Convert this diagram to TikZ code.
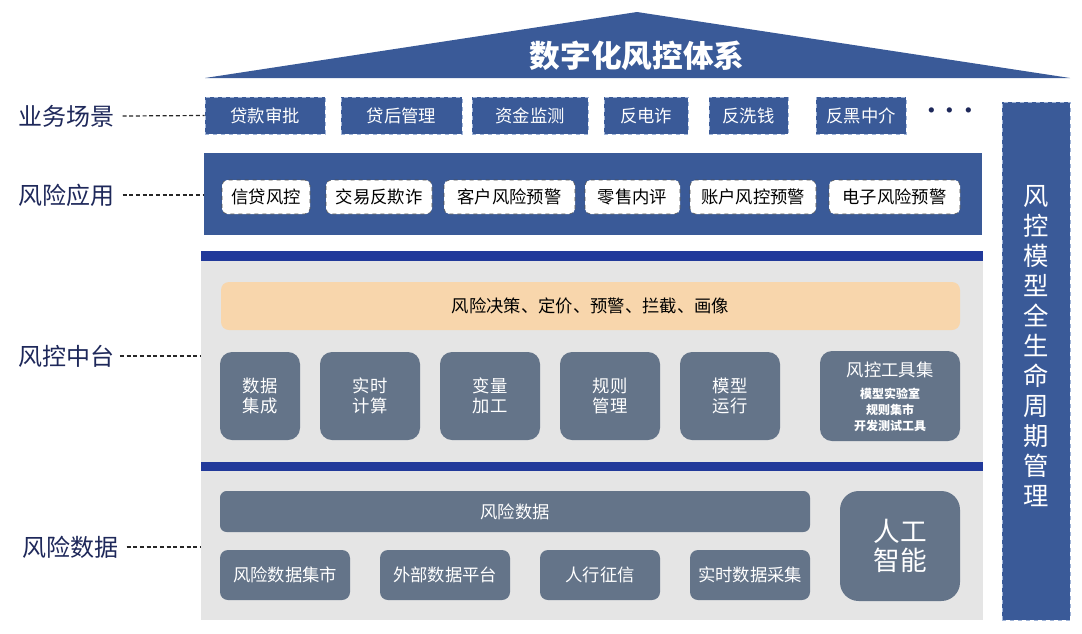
\documentclass[tikz,border=0pt]{standalone}
\usepackage{fontspec}
\setmainfont{Noto Sans CJK SC}
\begin{document}
\begin{tikzpicture}[x=0.75pt,y=-0.75pt,
  blue/.style={fill={rgb,255:red,58;green,90;blue,152}},
  biz/.style={blue,draw={rgb,255:red,160;green,180;blue,215},dashed,text=white,font=\fontsize{13}{15}\selectfont,inner sep=0pt},
  app/.style={fill=white,draw=black!70,dashed,rounded corners=4pt,font=\fontsize{13}{15}\selectfont,inner sep=0pt},
  gbox/.style={fill={rgb,255:red,100;green,116;blue,137},rounded corners=9pt,text=white,align=center,inner sep=0pt,font=\fontsize{13}{15}\selectfont},
  lab/.style={text={rgb,255:red,30;green,40;blue,90},font=\fontsize{18}{20}\selectfont,anchor=west,inner sep=0pt},
  dl/.style={densely dashed,line width=0.9pt,black!85},
  bar/.style={fill={rgb,255:red,33;green,57;blue,154}}]
\useasboundingbox (0,0) rectangle (1082,633);
\fill[white] (0,0) rectangle (1082,633);
% roof
\fill[blue] (205,78) -- (637,12) -- (1070,78) -- cycle;
\node[text=white,font=\bfseries\fontsize{23}{26}\selectfont] (title) at (637,56) {数字化风控体系};
% business
\foreach \a/\b/\t/\n in {205/325/贷款审批/b1,341/462/贷后管理/b2,472/588/资金监测/b3,604/688/反电诈/b4,709/788/反洗钱/b5,816/906/反黑中介/b6}{
  \node[biz,minimum width={(\b-\a)*0.75pt},minimum height={37*0.75pt}] (\n) at ({(\a+\b)/2},115.5) {\t};}
\node[font=\bfseries\fontsize{14}{15}\selectfont,text={rgb,255:red,30;green,40;blue,90}] (dots) at (950,113) {···};
% app band
\fill[blue] (204,153) rectangle (982,235);
\foreach \a/\b/\t/\n in {222/310/信贷风控/a1,326/432/交易反欺诈/a2,444/575/客户风险预警/a3,585/680/零售内评/a4,690/816/账户风控预警/a5,829/960/电子风险预警/a6}{
  \node[app,minimum width={(\b-\a)*0.75pt},minimum height={34*0.75pt}] (\n) at ({(\a+\b)/2},197) {\t};}
% middle
\fill[black!10] (201,251) rectangle (983,462);
\fill[bar] (201,251) rectangle (983,261);
\node[fill={rgb,255:red,248;green,214;blue,172},rounded corners=6pt,minimum width={739*0.75pt},minimum height={48*0.75pt},font=\fontsize{13}{15}\selectfont,inner sep=0pt] (dec) at (590.5,306) {风险决策、定价、预警、拦截、画像};
\foreach \a/\b/\t/\n in {220/300/数据\\集成/m1,320/420/实时\\计算/m2,440/540/变量\\加工/m3,560/660/规则\\管理/m4,680/780/模型\\运行/m5}{
  \node[gbox,minimum width={(\b-\a)*0.75pt},minimum height={88*0.75pt}] (\n) at ({(\a+\b)/2},396) {\t};}
\node[gbox,minimum width={140*0.75pt},minimum height={90*0.75pt}] (m6) at (890,396) {};
\node[text=white,font=\fontsize{13}{15}\selectfont] (m6t) at (890,370) {风控工具集};
\node[text=white,align=center,font=\bfseries\fontsize{9}{12}\selectfont] (m6s) at (890,410) {模型实验室\\规则集市\\开发测试工具};
% lower
\fill[black!10] (201,462) rectangle (983,620);
\fill[bar] (201,462) rectangle (983,471);
\node[gbox,rounded corners=5pt,minimum width={590*0.75pt},minimum height={41*0.75pt}] (rd) at (515,511.5) {风险数据};
\foreach \a/\b/\t/\n in {220/350/风险数据集市/d1,380/510/外部数据平台/d2,540/660/人行征信/d3,690/810/实时数据采集/d4}{
  \node[gbox,rounded corners=6pt,minimum width={(\b-\a)*0.75pt},minimum height={50*0.75pt}] (\n) at ({(\a+\b)/2},575) {\t};}
\node[gbox,rounded corners=14pt,minimum width={120*0.75pt},minimum height={110*0.75pt},font=\fontsize{20}{22}\selectfont] (ai) at (900,546) {人工\\智能};
% right column
\node[blue,draw={rgb,255:red,160;green,180;blue,215},dashed,minimum width={68*0.75pt},minimum height={518*0.75pt},inner sep=0pt] (rc) at (1036,361) {};
\node[text=white,align=center,font=\fontsize{19}{22.5}\selectfont] (rct) at (1036,346) {风\\控\\模\\型\\全\\生\\命\\周\\期\\管\\理};
% left labels
\node[lab] (l1) at (18,116) {业务场景};
\node[lab] (l2) at (18,195) {风险应用};
\node[lab] (l3) at (18,356) {风控中台};
\node[lab] (l4) at (22,547) {风险数据};
\draw[dl] (l1.east) ++(6pt,0) -- (b1.west);
\draw[dl] (l2.east) ++(6pt,0) -- (204,195);
\draw[dl] (l3.east) ++(4pt,0) -- (201,356);
\draw[dl] (l4.east) ++(6pt,0) -- (201,547);
\end{tikzpicture}
\end{document}
